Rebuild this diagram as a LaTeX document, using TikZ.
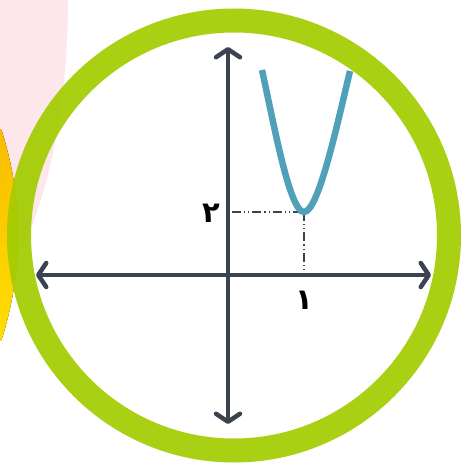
\documentclass[tikz,border=0pt]{standalone}
\usepackage{fontspec}
\newfontfamily\farsidigits[Script=Arabic]{DejaVu Sans}
\usetikzlibrary{arrows.meta}
\definecolor{ringgreen}{RGB}{163,204,0}
\definecolor{axisgray}{RGB}{59,67,80}
\definecolor{curveteal}{RGB}{79,160,184}
\definecolor{blushpink}{RGB}{253,231,234}
\definecolor{sunorange}{RGB}{248,188,0}
\definecolor{sunyellow}{RGB}{255,222,0}
\tikzset{
  axis/.style={draw=axisgray, line width=4.5pt, line cap=round,
    {Straight Barb[length=8pt, width=24pt, line width=4.5pt, round]}-{Straight Barb[length=8pt, width=24pt, line width=4.5pt, round]}},
  guide/.style={draw=axisgray, line width=1.2pt,
    dash pattern=on 9pt off 3pt on 1.2pt off 3pt on 1.2pt off 3pt},
  tick/.style={font=\farsidigits\fontsize{29}{29}\selectfont\bfseries, text=black, inner sep=0pt}
}
\begin{document}
\begin{tikzpicture}[x=1pt, y=-1pt]
  \useasboundingbox (0,0) rectangle (461,465);
  \begin{scope}
    \clip (0,0) rectangle (461,465);
    % background blobs
    \fill[blushpink] (-50,0) ellipse [x radius=118, y radius=313];
    \begin{scope}
      \clip (-322,235) circle [radius=340];
      \fill[top color=sunorange, bottom color=sunyellow] (-20,130) rectangle (30,340);
    \end{scope}
    % ring
    \draw[ringgreen, line width=24pt, draw opacity=0.93] (234,235.5) circle [radius=215];
  \end{scope}

  \coordinate (O) at (228,275);
  \coordinate (L) at (36,275);
  \coordinate (R) at (431,275);
  \coordinate (T) at (228,47);
  \coordinate (B) at (228,424);
  \coordinate (V) at (304,212);
  \coordinate (Y2) at (232,212);
  \coordinate (X1) at (304,270);

  \draw[axis] (L) -- (R);
  \draw[axis] (B) -- (T);

  \draw[guide] (Y2) -- (V);
  \draw[guide] (V) -- (X1);

  \draw[curveteal, line width=6.5pt, line cap=butt]
    (262,70) .. controls (275,130) and (290,212) .. (V)
    .. controls (318,212) and (336,130) .. (350,71);

  \node[tick] (two) at (211,213) {۲};
  \node[tick] (one) at (304,300) {۱};
\end{tikzpicture}
\end{document}
